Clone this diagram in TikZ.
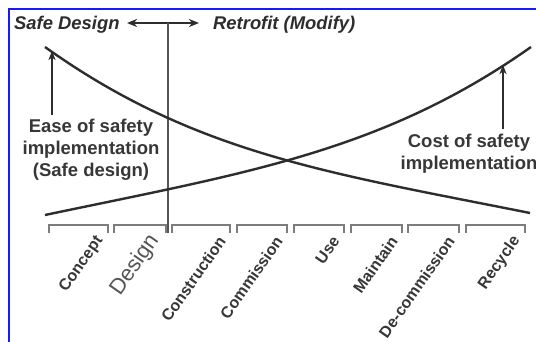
\documentclass[tikz,border=0pt]{standalone}
\usepackage{fontspec}
\setmainfont{Liberation Sans}
\usetikzlibrary{arrows.meta}
\definecolor{frameblue}{RGB}{25,25,245}
\definecolor{ink}{RGB}{45,45,45}
\definecolor{labelgray}{RGB}{55,55,55}
\definecolor{softgray}{RGB}{85,85,85}
\definecolor{bracketgray}{RGB}{125,125,125}

\begin{document}
\begin{tikzpicture}[x=1pt,y=-1pt,
  curve/.style={draw=ink,line width=2.4pt},
  pointer/.style={draw=ink,line width=1.8pt,-{Stealth[length=9pt,width=7pt,inset=2.5pt]}},
  twoway/.style={draw=ink,line width=1.8pt,{Stealth[length=10pt,width=8pt,inset=3pt]}-{Stealth[length=10pt,width=8pt,inset=3pt]}},
  divider/.style={draw=softgray,line width=1.8pt},
  bracketline/.style={draw=bracketgray,line width=1.4pt},
  stagelabel/.style={font=\bfseries\fontsize{16}{18}\selectfont,text=labelgray,rotate=55,anchor=east,inner sep=0pt},
  designlabel/.style={font=\fontsize{22}{24}\selectfont,text=softgray,rotate=55,anchor=east,inner sep=0pt},
  heading/.style={font=\bfseries\itshape\fontsize{18.4}{21}\selectfont,text=ink,inner sep=0pt,anchor=base west},
  note/.style={font=\bfseries\fontsize{18.5}{22}\selectfont,text=labelgray,align=center,inner sep=0pt}]

\useasboundingbox (0,0) rectangle (536,342);
\clip (0,0) rectangle (536,342);
\fill[white] (0,0) rectangle (536,342);

% open frame along the top and left
\draw[frameblue,line width=2pt] (8.5,342) -- (8.5,9) -- (536,9);

% headings and the two-way arrow between them
\node[heading] (safe) at (14,30) {Safe Design};
\node[heading] (retro) at (213,30) {Retrofit (Modify)};
\coordinate (arrowL) at (127,23);
\coordinate (arrowR) at (199,23);
\draw[twoway] (arrowL) -- (arrowR);

% divider between design and construction
\coordinate (splitTop) at (168,23);
\coordinate (splitBottom) at (168,233);
\draw[divider] (splitTop) -- (splitBottom);

% ease and cost curves
\coordinate (easeStart) at (45,47);
\coordinate (easeEnd) at (530,213);
\coordinate (costStart) at (45,215);
\coordinate (costEnd) at (531,47);
\draw[curve] (easeStart) .. controls (195,154) and (330,173) .. (easeEnd);
\draw[curve] (costStart) .. controls (245,173) and (382,152) .. (costEnd);

% curve annotations
\node[note] (ease) at (91,150) {Ease of safety\\implementation\\(Safe design)};
\node[note] (cost) at (469,154) {Cost of safety\\implementation};
\coordinate (easeTip) at (52,51);
\coordinate (costTip) at (503,65);
\draw[pointer] (ease.north -| easeTip) ++(0,-4) -- (easeTip);
\draw[pointer] (cost.north -| costTip) ++(0,-5) -- (costTip);

% life-cycle stages
\foreach \l/\r/\stage/\kind/\dx/\dy in {49/108/Concept/stagelabel/8/238,
    114/166/Design/designlabel/11/237,
    172/230/Construction/stagelabel/8/238,
    237/287/Commission/stagelabel/8/238,
    294/344/Use/stagelabel/8/238,
    351/402/Maintain/stagelabel/8/238,
    408/459/De-commission/stagelabel/8/238,
    466/525/Recycle/stagelabel/8/238}{
  \draw[bracketline] (\l,233) -- (\l,225) -- (\r,225) -- (\r,233);
  \node[\kind] (stage-\stage) at (\r-\dx,\dy) {\stage};
}
\end{tikzpicture}
\end{document}
